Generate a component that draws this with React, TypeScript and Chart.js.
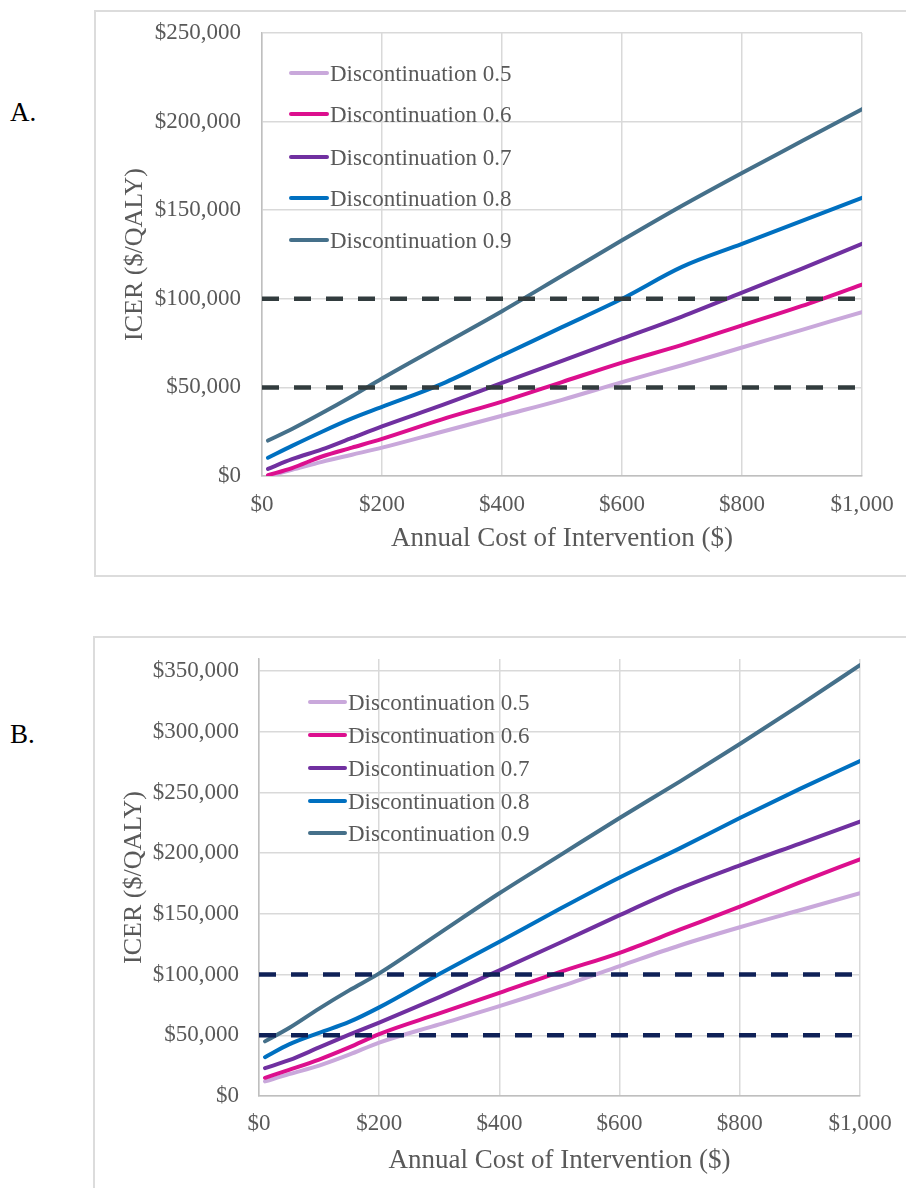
import React, { useEffect, useRef } from 'react';
import { Chart, registerables } from 'chart.js';

Chart.register(...registerables);

// ---------- data ----------
const costs = [10, 50, 100, 150, 200, 300, 400, 500, 600, 700, 800, 900, 1000];
const seriesNames = [
  'Discontinuation 0.5',
  'Discontinuation 0.6',
  'Discontinuation 0.7',
  'Discontinuation 0.8',
  'Discontinuation 0.9',
];
const seriesColors = ['#C9A8DB', '#DC0F8E', '#7030A0', '#0070C0', '#45708A'];

// Panel A
const a05 = [0, 3500, 8000, 12000, 16000, 25000, 34000, 43000, 53000, 62500, 72500, 82500, 92500];
const a06 = [500, 4500, 11000, 16000, 21000, 32000, 42000, 53000, 64000, 74000, 85000, 96000, 108000];
const a07 = [4000, 9500, 15000, 21500, 28000, 40000, 52500, 65000, 77500, 90000, 103500, 117000, 131000];
const a08 = [10300, 17000, 25000, 32500, 39000, 52000, 68000, 84000, 100000, 118000, 131000, 144000, 157000];
const a09 = [20000, 26500, 35500, 45000, 55000, 74000, 93000, 113000, 133000, 152500, 171000, 189000, 207000];

// Panel B
const b05 = [12000, 18000, 25000, 34000, 44000, 59000, 74000, 90000, 107000, 124000, 139000, 153000, 167000];
const b06 = [15000, 21500, 30000, 40000, 51000, 68000, 85000, 102000, 118000, 137000, 156000, 176000, 195000];
const b07 = [23000, 29500, 40000, 50500, 60500, 81500, 103500, 126000, 149000, 171000, 190000, 208000, 226000];
const b08 = [32000, 42500, 52000, 61000, 73000, 100500, 127000, 154000, 180000, 204000, 229000, 253000, 276000];
const b09 = [45000, 56000, 72000, 87000, 101000, 134000, 167000, 198000, 229000, 259000, 290000, 322000, 355000];

const thresholds = [50000, 100000];
const xTickValues = [0, 200, 400, 600, 800, 1000];
const yTickValuesA = [0, 50000, 100000, 150000, 200000, 250000];
const yTickValuesB = [0, 50000, 100000, 150000, 200000, 250000, 300000, 350000];
const xMin = 0;
const xMax = 1000;
const yMaxA = 250000;
const yMaxB = 360000;

const xTitle = 'Annual Cost of Intervention ($)';
const yTitle = 'ICER ($/QALY)';

// ---------- styling ----------
const FONT = "'Liberation Serif', 'Times New Roman', serif";
const TEXT = '#595959';
const GRID = '#d9d9d9';

const fmt = (v: number | string) => '$' + Number(v).toLocaleString('en-US');

const clearPadding = (s: any) => {
  s.paddingTop = 0;
  s.paddingBottom = 0;
  s.paddingLeft = 0;
  s.paddingRight = 0;
};

type PanelProps = {
  left: number;
  top: number;
  width: number;
  height: number;
  series: number[][];
  yMax: number;
  yTicks: number[];
  dashColor: string;
  pad: { left: number; right: number; top: number; bottom: number };
  yW: number;
  xH: number;
  xTickPad: number;
  yTickPad: number;
};

function Panel(p: PanelProps) {
  const ref = useRef<HTMLCanvasElement>(null);
  useEffect(() => {
    if (!ref.current) return;
    const datasets: any[] = [
      ...thresholds.map((t) => ({
        label: 'threshold ' + t,
        data: [
          { x: xMin, y: t },
          { x: xMax, y: t },
        ],
        borderColor: p.dashColor,
        borderWidth: 4.5,
        borderDash: [17, 15],
        borderCapStyle: 'butt',
        pointRadius: 0,
        tension: 0,
        order: 0,
      })),
      ...p.series.map((vals, i) => ({
        label: seriesNames[i],
        data: costs.map((c, j) => ({ x: c, y: vals[j] })),
        borderColor: seriesColors[i],
        borderWidth: 4,
        borderCapStyle: 'round',
        borderJoinStyle: 'round',
        pointRadius: 0,
        cubicInterpolationMode: 'monotone',
        order: 5 - i,
      })),
    ];
    const chart = new Chart(ref.current, {
      type: 'line',
      data: { datasets },
      options: {
        responsive: false,
        animation: false,
        events: [],
        layout: { padding: p.pad, autoPadding: false },
        plugins: { legend: { display: false }, tooltip: { enabled: false } },
        scales: {
          x: {
            type: 'linear',
            min: xMin,
            max: xMax,
            afterBuildTicks: (s: any) => {
              s.ticks = xTickValues.map((v) => ({ value: v }));
            },
            ticks: {
              callback: (v: any) => fmt(v),
              color: TEXT,
              font: { family: FONT, size: 23 },
              padding: p.xTickPad,
              maxRotation: 0,
              autoSkip: false,
            },
            grid: { color: GRID, lineWidth: 1.5, drawTicks: false },
            border: { color: '#bfbfbf', width: 1.5 },
            title: {
              display: true,
              text: xTitle,
              color: TEXT,
              font: { family: FONT, size: 27 },
              padding: 0,
            },
            afterFit: (s: any) => {
              s.height = p.xH;
              clearPadding(s);
            },
          },
          y: {
            type: 'linear',
            min: 0,
            max: p.yMax,
            afterBuildTicks: (s: any) => {
              s.ticks = p.yTicks.map((v) => ({ value: v }));
            },
            ticks: {
              callback: (v: any) => fmt(v),
              color: TEXT,
              font: { family: FONT, size: 23 },
              padding: p.yTickPad,
              autoSkip: false,
            },
            grid: { color: GRID, lineWidth: 1.5, drawTicks: false },
            border: { color: '#bfbfbf', width: 1.5 },
            title: {
              display: true,
              text: yTitle,
              color: TEXT,
              font: { family: FONT, size: 26 },
              padding: 0,
            },
            afterFit: (s: any) => {
              s.width = p.yW;
              clearPadding(s);
            },
          },
        },
      } as any,
    });
    return () => chart.destroy();
  }, []);
  return (
    <canvas
      ref={ref}
      width={p.width}
      height={p.height}
      style={{ position: 'absolute', left: p.left, top: p.top, width: p.width, height: p.height }}
    />
  );
}

function Legend({ x1, x2, ys, size }: { x1: number; x2: number; ys: number[]; size: number }) {
  return (
    <>
      {seriesNames.map((name, i) => (
        <React.Fragment key={name}>
          <div
            style={{
              position: 'absolute',
              left: x1,
              top: ys[i] - 2,
              width: x2 - x1,
              height: 4,
              borderRadius: 2,
              background: seriesColors[i],
            }}
          />
          <div
            style={{
              position: 'absolute',
              left: x2 + 1,
              top: ys[i] - size / 2,
              fontFamily: FONT,
              fontSize: size,
              lineHeight: size + 'px',
              color: TEXT,
              whiteSpace: 'nowrap',
            }}
          >
            {name}
          </div>
        </React.Fragment>
      ))}
    </>
  );
}

export default function App() {
  return (
    <div
      style={{
        position: 'absolute',
        left: 0,
        top: 0,
        width: 906,
        height: 1188,
        overflow: 'hidden',
        background: '#fff',
      }}
    >
      <div
        style={{
          position: 'absolute',
          left: 10,
          top: 112 - 13.5,
          fontFamily: FONT,
          fontSize: 27,
          lineHeight: '27px',
          color: '#000',
        }}
      >
        A.
      </div>
      <div
        style={{
          position: 'absolute',
          left: 10,
          top: 734 - 13.5,
          fontFamily: FONT,
          fontSize: 27,
          lineHeight: '27px',
          color: '#000',
        }}
      >
        B.
      </div>
      <div
        style={{
          position: 'absolute',
          left: 94,
          top: 10,
          width: 860,
          height: 567,
          border: '2px solid #dcdcdc',
          boxSizing: 'border-box',
        }}
      />
      <div
        style={{
          position: 'absolute',
          left: 93,
          top: 636,
          width: 860,
          height: 600,
          border: '2px solid #dcdcdc',
          boxSizing: 'border-box',
        }}
      />
      <Panel
        left={94}
        top={10}
        width={812}
        height={567}
        series={[a05, a06, a07, a08, a09]}
        yMax={yMaxA}
        yTicks={yTickValuesA}
        dashColor="#323C3E"
        pad={{ left: 26, right: 44, top: 23, bottom: 22 }}
        yW={142}
        xH={79}
        xTickPad={15}
        yTickPad={21}
      />
      <Panel
        left={93}
        top={636}
        width={813}
        height={552}
        series={[b05, b06, b07, b08, b09]}
        yMax={yMaxB}
        yTicks={yTickValuesB}
        dashColor="#0F2157"
        pad={{ left: 26, right: 46, top: 23, bottom: 11 }}
        yW={140}
        xH={81}
        xTickPad={14}
        yTickPad={20}
      />
      <Legend x1={289} x2={329} ys={[73, 114, 157, 198, 240]} size={23} />
      <Legend x1={308} x2={347} ys={[702, 735, 768, 801, 833]} size={23} />
    </div>
  );
}
